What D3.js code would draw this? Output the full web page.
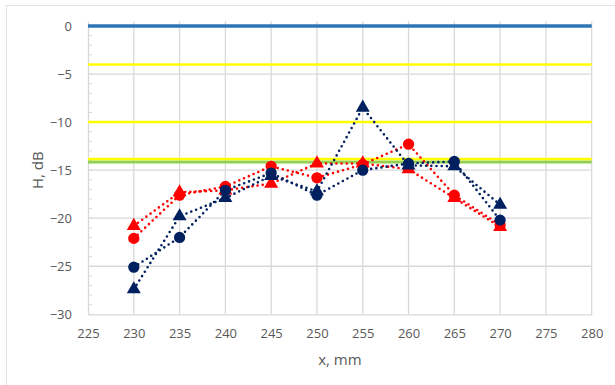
<!DOCTYPE html>
<html>
<head>
<meta charset="utf-8">
<script src="https://cdn.jsdelivr.net/npm/d3@7"></script>
<style>
  body { margin: 0; background: #fff; }
  text { font-family: "Open Sans", sans-serif; fill: #595959; }
</style>
</head>
<body>
<svg id="chart" width="615" height="385"></svg>
<script>
(function() {

  var xValues = [230, 235, 240, 245, 250, 255, 260, 265, 270];
  var redTriangles  = [-20.8, -17.3, -17.1, -16.4, -14.3, -14.3, -14.9, -17.9, -20.9];
  var redCircles    = [-22.1, -17.6, -16.7, -14.6, -15.8, -14.4, -12.3, -17.6, -20.7];
  var navyCircles   = [-25.1, -22.0, -17.1, -15.3, -17.6, -15.0, -14.3, -14.1, -20.2];
  var navyTriangles = [-27.4, -19.8, -17.9, -15.6, -17.2, -8.5, -14.5, -14.6, -18.6];
  var xTicks = [225, 230, 235, 240, 245, 250, 255, 260, 265, 270, 275, 280];
  var yTicks = [-30, -25, -20, -15, -10, -5, 0];
  var refLines = [
    { value: 0, color: '#2e75b6', width: 3.5 },
    { value: -4, color: '#ffff00', width: 2.5 },
    { value: -10, color: '#ffff00', width: 2.5 },
    { value: -14.15, color: '#92d050', width: 3 },
    { value: -13.85, color: '#ffff00', width: 2.5 }
  ];

  var svg = d3.select('#chart');
  var left = 88, right = 591.7, top = 21.2, bottom = 314.3;

  var x = d3.scaleLinear().domain([225, 280]).range([left, right]);
  var y = d3.scaleLinear().domain([-30, 0.5]).range([bottom, top]);

  // chart object edges (sheet behind)
  svg.append('line')
    .attr('x1', 6).attr('x2', 615).attr('y1', 5.5).attr('y2', 5.5)
    .attr('stroke', '#e3e3e3');
  svg.append('line')
    .attr('x1', 6.5).attr('x2', 6.5).attr('y1', 5).attr('y2', 385)
    .attr('stroke', '#e3e3e3');

  // gridlines
  svg.append('g')
    .selectAll('line')
    .data(xTicks.slice(1))
    .join('line')
    .attr('x1', function(d) { return x(d); })
    .attr('x2', function(d) { return x(d); })
    .attr('y1', top).attr('y2', bottom)
    .attr('stroke', '#d9d9d9').attr('stroke-width', 1.3);

  svg.append('g')
    .selectAll('line')
    .data(yTicks.slice(1))
    .join('line')
    .attr('x1', left).attr('x2', right)
    .attr('y1', function(d) { return y(d); })
    .attr('y2', function(d) { return y(d); })
    .attr('stroke', '#d9d9d9').attr('stroke-width', 1.3);

  // axes
  var yAxis = d3.axisLeft(y).tickValues(yTicks).tickSize(0).tickPadding(16);
  var gy = svg.append('g').attr('transform', 'translate(' + left + ',0)').call(yAxis);
  gy.select('.domain').attr('stroke', '#d9d9d9').attr('stroke-width', 1.3);
  gy.selectAll('text').style('font-size', '13px').style('font-family', '"Open Sans", sans-serif').attr('fill', '#595959');

  var minor = d3.range(-30, 1, 1);
  gy.append('g').selectAll('line')
    .data(minor)
    .join('line')
    .attr('x1', 0).attr('x2', 4)
    .attr('y1', function(d) { return y(d); })
    .attr('y2', function(d) { return y(d); })
    .attr('stroke', '#d9d9d9');

  var xAxis = d3.axisBottom(x).tickValues(xTicks).tickSize(0).tickPadding(14);
  var gx = svg.append('g').attr('transform', 'translate(0,' + bottom + ')').call(xAxis);
  gx.select('.domain').attr('stroke', '#d9d9d9').attr('stroke-width', 1.3);
  gx.selectAll('text').style('font-size', '13px').style('font-family', '"Open Sans", sans-serif').attr('fill', '#595959');

  // reference lines
  svg.append('g')
    .selectAll('line')
    .data(refLines)
    .join('line')
    .attr('x1', left).attr('x2', right)
    .attr('y1', function(d) { return y(d.value); })
    .attr('y2', function(d) { return y(d.value); })
    .attr('stroke', function(d) { return d.color; })
    .attr('stroke-width', function(d) { return d.width; });

  var series = [
    { values: redTriangles, color: '#ff0000', shape: d3.symbolTriangle },
    { values: redCircles, color: '#ff0000', shape: d3.symbolCircle },
    { values: navyTriangles, color: '#002060', shape: d3.symbolTriangle },
    { values: navyCircles, color: '#002060', shape: d3.symbolCircle }
  ];

  var line = d3.line()
    .x(function(d, i) { return x(xValues[i]); })
    .y(function(d) { return y(d); });

  series.forEach(function(s) {
    svg.append('path')
      .datum(s.values)
      .attr('d', line)
      .attr('fill', 'none')
      .attr('stroke', s.color)
      .attr('stroke-width', 2.6)
      .attr('stroke-linecap', 'round')
      .attr('stroke-dasharray', '0 5.2');
  });

  series.forEach(function(s) {
    svg.append('g')
      .selectAll('path')
      .data(s.values)
      .join('path')
      .attr('transform', function(d, i) {
        return 'translate(' + x(xValues[i]) + ',' + y(d) + ')';
      })
      .attr('d', d3.symbol().type(s.shape).size(s.shape === d3.symbolCircle ? 100 : 85))
      .attr('fill', s.color);
  });

  // axis titles
  svg.append('text')
    .attr('transform', 'translate(43,' + y(-15) + ') rotate(-90)')
    .attr('text-anchor', 'middle')
    .style('font-size', '15px')
    .text('H, dB');

  svg.append('text')
    .attr('x', (left + right) / 2)
    .attr('y', 365)
    .attr('text-anchor', 'middle')
    .style('font-size', '15px')
    .text('x, mm');
})();
</script>
</body>
</html>
